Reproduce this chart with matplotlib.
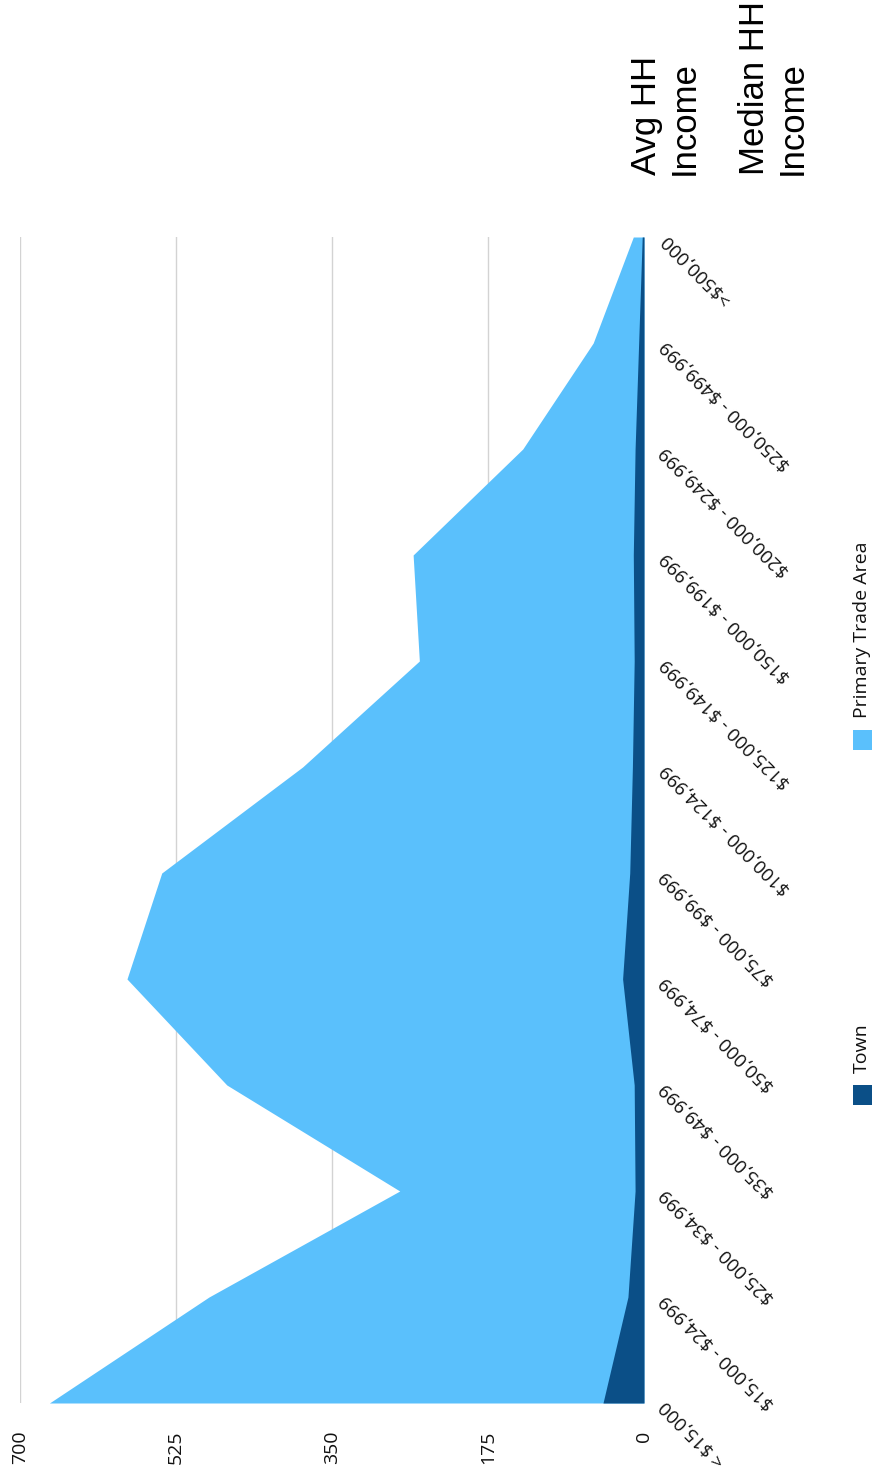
import matplotlib
matplotlib.use("Agg")
import matplotlib.pyplot as plt
from matplotlib.patches import Rectangle

# household income brackets, lowest first
categories = ["< $15,000", "$15,000 - $24,999", "$25,000 - $34,999", "$35,000 - $49,999",
              "$50,000 - $74,999", "$75,000 - $99,999", "$100,000 - $124,999",
              "$125,000 - $149,999", "$150,000 - $199,999", "$200,000 - $249,999",
              "$250,000 - $499,999", ">$500,000"]
primaryTradeArea = [667, 488, 274, 468, 580, 541, 383, 252, 259, 136, 57, 12]
town = [46, 18, 10, 11, 24, 16, 13, 11, 12, 10, 6, 2]
valueTicks = [0, 175, 350, 525, 700]

seriesNames = ["Town", "Primary Trade Area"]
colorTown = "#0b4f87"
colorPta = "#5ac0fc"

plt.rcParams["font.family"] = ["Open Sans", "DejaVu Sans"]
plt.rcParams["text.parse_math"] = False

fig = plt.figure(figsize=(8.78, 14.75), dpi=100)
ax = fig.add_axes([20 / 878, 1 - 1403 / 1475, 624 / 878, 1166 / 1475])

pos = list(range(len(categories)))
ax.fill_betweenx(pos, 0, primaryTradeArea, color=colorPta, lw=0, zorder=2)
ax.fill_betweenx(pos, 0, town, color=colorTown, lw=0, zorder=3)

ax.set_xlim(700, 0)
ax.set_ylim(0, len(categories) - 1)
ax.set_xticks(valueTicks)
ax.set_xticklabels([str(v) for v in valueTicks], rotation=90, fontsize=14, color="#111111")
ax.grid(axis="x", color="#d3d3d3", lw=1, zorder=0)
ax.set_axisbelow(True)
for s in ax.spines.values():
    s.set_visible(False)
ax.tick_params(axis="x", length=0, pad=20)

ax.yaxis.tick_right()
ax.set_yticks(pos)
ax.set_yticklabels(categories, fontsize=13.5, color="#111111")
ax.tick_params(axis="y", length=0, pad=14)
for lbl in ax.get_yticklabels():
    lbl.set_rotation(135)
    lbl.set_rotation_mode("anchor")
    lbl.set_ha("right")
    lbl.set_va("center")

# legend, turned on its side like the rest of the chart
for name, col, ysq in zip(seriesNames, [colorTown, colorPta], [1095, 740]):
    fig.add_artist(Rectangle((853 / 878, 1 - (ysq + 10) / 1475), 19 / 878, 20 / 1475,
                             transform=fig.transFigure, color=col, lw=0))
    fig.text(862 / 878, 1 - (ysq - 22) / 1475, name, rotation=90, ha="center", va="bottom",
             fontsize=14, color="#111111")

fig.text(630 / 878, 1 - 175 / 1475, "Avg HH\nIncome", rotation=90, ha="left", va="bottom",
         family=["Liberation Sans", "DejaVu Sans"], fontsize=25, linespacing=1.2)
fig.text(738 / 878, 1 - 175 / 1475, "Median HH\nIncome", rotation=90, ha="left", va="bottom",
         family=["Liberation Sans", "DejaVu Sans"], fontsize=25, linespacing=1.2)

fig.savefig("out.png", dpi=100, facecolor="white")
